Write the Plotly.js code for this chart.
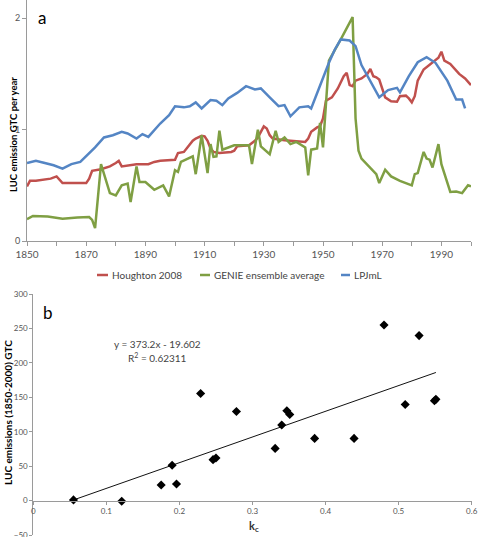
<!DOCTYPE html>
<html>
<head>
<meta charset="utf-8">
<script src="https://cdn.plot.ly/plotly-3.0.1.min.js"></script>
<style>html,body{margin:0;padding:0;background:#fff;}#chart{width:479px;height:537px;}</style>
</head>
<body>
<div id="chart"></div>
<script>
// ---- Panel a: LUC emission (GtC per year) ----
const houghtonYears = [1850,1851,1853,1858,1860,1862,1866,1869,1870,1871,1872,1875,1878,1880,1881,1882,1885,1887,1891,1893,1895,1899,1900,1901,1903,1906,1907,1909,1910,1911,1912,1913,1915,1919,1920,1921,1925,1927,1928,1930,1931,1932,1933,1937,1940,1944,1945,1946,1948,1949,1950,1951,1953,1955,1957,1958,1959,1960,1961,1963,1965,1966,1967,1968,1969,1970,1971,1973,1975,1976,1978,1979,1980,1981,1982,1984,1987,1989,1990,1991,1993,1996,1998,2000];
const houghton = [0.49,0.54,0.54,0.56,0.58,0.52,0.52,0.515,0.52,0.56,0.63,0.645,0.67,0.70,0.72,0.67,0.68,0.69,0.69,0.71,0.72,0.725,0.73,0.79,0.80,0.90,0.92,0.945,0.94,0.90,0.83,0.80,0.79,0.80,0.81,0.85,0.86,0.90,0.93,1.03,1.01,0.95,0.92,0.905,0.90,0.89,0.92,0.98,1.02,1.03,1.10,1.26,1.29,1.37,1.48,1.51,1.40,1.39,1.44,1.46,1.50,1.545,1.48,1.47,1.45,1.36,1.29,1.255,1.25,1.30,1.305,1.28,1.245,1.30,1.44,1.54,1.605,1.645,1.70,1.62,1.59,1.50,1.46,1.40];

const genieYears = [1850,1852,1857,1862,1867,1871,1872,1873,1875,1878,1880,1882,1884,1885,1887,1888,1890,1893,1896,1898,1900,1901,1902,1906,1907,1909,1911,1912,1913,1914,1915,1916,1920,1925,1926,1928,1929,1932,1934,1935,1937,1939,1941,1944,1945,1946,1948,1949,1950,1951,1952,1956,1960,1961,1962,1963,1965,1968,1969,1971,1973,1976,1980,1981,1982,1984,1985,1986,1987,1989,1990,1993,1995,1997,1999,2000];
const genie = [0.195,0.225,0.22,0.20,0.21,0.215,0.19,0.115,0.69,0.43,0.41,0.50,0.515,0.35,0.67,0.53,0.53,0.46,0.50,0.40,0.636,0.62,0.71,0.76,0.60,0.95,0.61,0.87,0.755,0.76,0.99,0.82,0.86,0.86,0.69,1.00,0.85,0.78,0.99,0.89,0.93,0.87,0.89,0.84,0.59,0.82,0.83,1.06,0.84,1.25,1.62,1.81,2.01,1.10,0.81,0.74,0.68,0.60,0.52,0.64,0.58,0.54,0.50,0.60,0.61,0.80,0.74,0.73,0.66,0.87,0.69,0.44,0.445,0.43,0.50,0.49];

const lpjYears = [1850,1853,1856,1859,1862,1865,1868,1871,1873,1876,1879,1882,1884,1887,1889,1891,1895,1898,1900,1903,1905,1907,1909,1912,1914,1916,1918,1921,1924,1927,1929,1932,1935,1937,1939,1942,1945,1946,1949,1952,1954,1956,1959,1961,1963,1966,1969,1972,1975,1976,1979,1982,1985,1988,1992,1995,1997,1998];
const lpj = [0.70,0.72,0.70,0.68,0.65,0.69,0.71,0.785,0.84,0.93,0.95,0.98,0.965,0.92,0.96,0.935,1.055,1.13,1.21,1.20,1.21,1.245,1.19,1.265,1.26,1.22,1.28,1.33,1.39,1.36,1.37,1.29,1.21,1.22,1.12,1.20,1.21,1.19,1.40,1.60,1.72,1.81,1.80,1.75,1.58,1.43,1.29,1.355,1.375,1.335,1.48,1.605,1.65,1.60,1.44,1.27,1.27,1.19];

const seriesNames = ['Houghton 2008','GENIE ensemble average','LPJmL'];
const seriesColors = ['#C0504D','#7F9F43','#5485C4'];

// ---- Panel b: cumulative LUC emissions vs k_c ----
const kc  = [0.055,0.121,0.175,0.190,0.196,0.229,0.246,0.250,0.278,0.331,0.340,0.347,0.351,0.385,0.439,0.480,0.509,0.528,0.549,0.551];
const luc = [1,-1,22.7,51.3,24,155.5,59.4,61.9,129.4,75.8,109.7,130.4,125,90.3,90.3,255,139.6,239.6,145,147];
const fitSlope = 373.2;
const fitIntercept = -19.602;
const fitR2 = 0.62311;

const kcTicks = [0,0.1,0.2,0.3,0.4,0.5,0.6];
const kcTickText = ['0','0.1','0.2','0.3','0.4','0.5','0.6'];
const lucTicks = [-50,0,50,100,150,200,250,300];

const W = 479, H = 537;
const px = v => v / W;
const py = v => 1 - v / H;

const fitX = [Math.min(...kc), Math.max(...kc)];
const fitY = fitX.map(x => fitSlope * x + fitIntercept);

const traces = [
  {x: houghtonYears, y: houghton, name: seriesNames[0], type: 'scatter', mode: 'lines',
   line: {color: seriesColors[0], width: 2.5}, xaxis: 'x', yaxis: 'y'},
  {x: genieYears, y: genie, name: seriesNames[1], type: 'scatter', mode: 'lines',
   line: {color: seriesColors[1], width: 2.5}, xaxis: 'x', yaxis: 'y'},
  {x: lpjYears, y: lpj, name: seriesNames[2], type: 'scatter', mode: 'lines',
   line: {color: seriesColors[2], width: 2.5}, xaxis: 'x', yaxis: 'y'},
  {x: fitX, y: fitY, type: 'scatter', mode: 'lines', name: 'Linear fit',
   line: {color: '#111', width: 1}, xaxis: 'x2', yaxis: 'y2', hoverinfo: 'skip'},
  {x: kc, y: luc, type: 'scatter', mode: 'markers', name: 'Model runs',
   marker: {symbol: 'diamond', size: 7, color: '#000'}, xaxis: 'x2', yaxis: 'y2'}
];

const axisGrey = '#9a9a9a';
const tickGrey = '#555';
const FONT = 'Lato, "Liberation Sans", Arial, sans-serif';

const yZeroPix = 535 - (0 - (-50)) * (535 - 294) / 350;

// legend (drawn as small line samples + labels, like the original)
const legendY = 275;
const legendLineX = [[97, 108], [200, 210], [341, 350]];
const legendTextX = [110, 212, 352];

const shapes = legendLineX.map((seg, i) => ({
  type: 'line', xref: 'paper', yref: 'paper',
  x0: px(seg[0]), x1: px(seg[1]), y0: py(legendY), y1: py(legendY),
  line: {color: seriesColors[i], width: 2.5}
}));

const legendLabels = seriesNames.map((n, i) => ({
  text: n, xref: 'paper', yref: 'paper', x: px(legendTextX[i]), y: py(legendY),
  showarrow: false, xanchor: 'left', yanchor: 'middle',
  font: {size: 10, color: '#444', family: FONT}
}));

const layout = {
  width: W, height: H,
  margin: {l: 0, r: 0, t: 0, b: 0},
  paper_bgcolor: '#fff', plot_bgcolor: '#fff',
  font: {family: FONT, color: '#444'},
  showlegend: false,
  xaxis: {domain: [px(27), px(471)], range: [1850, 2000], anchor: 'y',
          tick0: 1850, dtick: 20,
          ticks: 'outside', ticklen: 4, tickcolor: axisGrey, showline: true, linecolor: axisGrey,
          minor: {tick0: 1850, dtick: 10, ticks: 'outside', ticklen: 4, tickcolor: axisGrey},
          showgrid: false, zeroline: false, tickfont: {size: 10, color: tickGrey}},
  yaxis: {domain: [py(241), 1], range: [0, 2.164], anchor: 'x',
          tickmode: 'array', tickvals: [0, 1, 2],
          ticks: 'outside', ticklen: 4, tickcolor: axisGrey, showline: true, linecolor: axisGrey,
          showgrid: false, zeroline: false, tickfont: {size: 9, color: tickGrey}},
  xaxis2: {domain: [px(33.3), px(471.7)], range: [0, 0.6], anchor: 'free', position: py(yZeroPix),
           tickmode: 'array', tickvals: kcTicks, ticktext: kcTickText,
           ticks: 'outside', ticklen: 3, tickcolor: axisGrey, showline: true, linecolor: axisGrey,
           showgrid: false, zeroline: false, tickfont: {size: 8, color: tickGrey}},
  yaxis2: {domain: [py(535), py(294)], range: [-50, 300], anchor: 'x2',
           tickmode: 'array', tickvals: lucTicks, ticklabeloverflow: 'allow',
           ticks: 'outside', ticklen: 3, tickcolor: axisGrey, showline: true, linecolor: axisGrey,
           showgrid: false, zeroline: false, tickfont: {size: 8, color: tickGrey}},
  shapes: shapes,
  annotations: legendLabels.concat([
    {text: 'a', xref: 'paper', yref: 'paper', x: px(42), y: py(18), showarrow: false,
     font: {size: 17, color: '#000', family: FONT}, xanchor: 'center', yanchor: 'middle'},
    {text: '<b>LUC emission GTC per year</b>', xref: 'paper', yref: 'paper', x: px(13), y: py(135),
     textangle: -90, showarrow: false, font: {size: 9.5, color: '#000', family: FONT},
     xanchor: 'center', yanchor: 'middle'},
    {text: 'b', xref: 'paper', yref: 'paper', x: px(48), y: py(312), showarrow: false,
     font: {size: 17, color: '#000', family: FONT}, xanchor: 'center', yanchor: 'middle'},
    {text: '<b>LUC emissions (1850-2000) GTC</b>', xref: 'paper', yref: 'paper', x: px(8), y: py(413),
     textangle: -90, showarrow: false, font: {size: 10, color: '#000', family: FONT},
     xanchor: 'center', yanchor: 'middle'},
    {text: 'y = ' + fitSlope + 'x - ' + Math.abs(fitIntercept), xref: 'paper', yref: 'paper',
     x: px(157), y: py(344), showarrow: false, font: {size: 10, color: '#444', family: FONT},
     xanchor: 'center', yanchor: 'middle'},
    {text: 'R<sup>2</sup> = ' + fitR2, xref: 'paper', yref: 'paper',
     x: px(157), y: py(357), showarrow: false, font: {size: 10, color: '#444', family: FONT},
     xanchor: 'center', yanchor: 'middle'},
    {text: '<b>k<sub>c</sub></b>', xref: 'paper', yref: 'paper', x: px(254), y: py(526),
     showarrow: false, font: {size: 11, color: '#333', family: FONT},
     xanchor: 'center', yanchor: 'middle'}
  ])
};

Plotly.newPlot('chart', traces, layout, {displayModeBar: false, staticPlot: true});
</script>
</body>
</html>
